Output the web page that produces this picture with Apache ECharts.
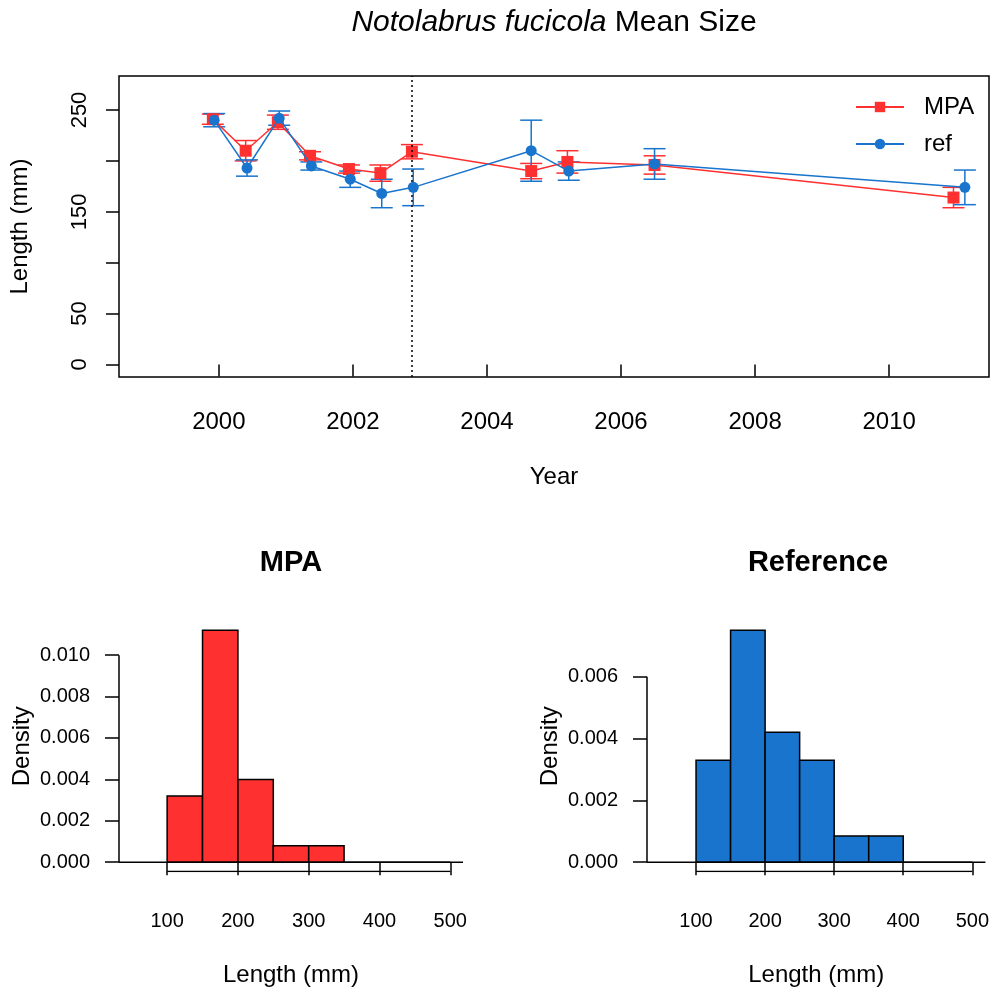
<!DOCTYPE html>
<html>
<head>
<meta charset="utf-8">
<script src="https://cdn.jsdelivr.net/npm/echarts@6/dist/echarts.min.js"></script>
<style>
  html, body { margin: 0; padding: 0; background: #fff; }
  #chart { width: 992px; height: 996px; }
</style>
</head>
<body>
<div id="chart"></div>
<script>
// mean size by survey date (decimal year), error = +/- half bar
var mpaYears = [1999.91, 2000.40, 2000.88, 2001.36, 2001.94, 2002.41, 2002.88, 2004.66, 2005.20, 2006.50, 2010.96];
var mpaMeans = [241, 210, 238, 205, 192, 188, 209, 190, 199, 196, 164];
var mpaErr   = [5, 10, 7, 4, 4, 8, 7, 7.5, 11, 9, 10];

var refYears = [1999.93, 2000.42, 2000.90, 2001.38, 2001.96, 2002.43, 2002.90, 2004.66, 2005.22, 2006.50, 2011.13];
var refMeans = [240, 193, 242, 195, 182, 168, 174, 210, 190, 197, 174];
var refErr   = [6.5, 8, 7, 4, 8, 14, 18, 30, 9, 15, 17];

var mpaStart = 2002.88;   // dotted line

var yearTicks = [2000, 2002, 2004, 2006, 2008, 2010];
var lenTicks = [0, 50, 100, 150, 200, 250];
var lenLabels = [0, 50, 150, 250];

// histograms (density per 50 mm bin)
var binEdges = [100, 150, 200, 250, 300, 350, 400, 450, 500];
var mpaDensity = [0.0032, 0.0112, 0.0040, 0.0008, 0.0008, 0, 0, 0];
var refDensity = [0.0033, 0.0075, 0.0042, 0.0033, 0.00085, 0.00085, 0, 0];
var histXTicks = [100, 200, 300, 400, 500];
var mpaYTicks = [0, 0.002, 0.004, 0.006, 0.008, 0.010];
var refYTicks = [0, 0.002, 0.004, 0.006];

var RED = '#FF3030', BLUE = '#1874CD';
var FONT = 'Liberation Sans';

function zip(a, b) { return a.map(function (v, i) { return [v, b[i]]; }); }
function errData(x, m, e) { return x.map(function (v, i) { return [v, m[i] - e[i], m[i] + e[i]]; }); }
function binData(d) { return d.map(function (v, i) { return [binEdges[i], binEdges[i + 1], v]; }); }

function errorBars(color) {
  return function (params, api) {
    var x = api.value(0);
    var lo = api.coord([x, api.value(1)]);
    var hi = api.coord([x, api.value(2)]);
    var w = 11;
    var st = { stroke: color, lineWidth: 1.5 };
    return { type: 'group', children: [
      { type: 'line', shape: { x1: lo[0], y1: lo[1], x2: hi[0], y2: hi[1] }, style: st },
      { type: 'line', shape: { x1: lo[0] - w, y1: lo[1], x2: lo[0] + w, y2: lo[1] }, style: st },
      { type: 'line', shape: { x1: hi[0] - w, y1: hi[1], x2: hi[0] + w, y2: hi[1] }, style: st }
    ] };
  };
}

function histBars(color) {
  return function (params, api) {
    var a = api.coord([api.value(0), api.value(2)]);
    var b = api.coord([api.value(1), 0]);
    return { type: 'rect',
      shape: { x: a[0], y: a[1], width: b[0] - a[0], height: b[1] - a[1] },
      style: { fill: color, stroke: '#000', lineWidth: 1.5 } };
  };
}

// axis-style lines for the R look, drawn in data space
function rule(xi, yi, pts) {
  return { type: 'line', xAxisIndex: xi, yAxisIndex: yi, data: pts, symbol: 'none', silent: true,
    lineStyle: { color: '#000', width: 1.5 }, z: 5, animation: false };
}

var mpaX = { min: 32, max: 518 };
var refX = { min: 29, max: 519 };
var mpaY = { min: -0.000448, max: 0.011648 };
var refY = { min: -0.0003, max: 0.0078 };

function histXAxis(idx, r) {
  return { type: 'value', gridIndex: idx, min: r.min, max: r.max,
    axisLine: { show: false }, splitLine: { show: false },
    axisTick: { show: true, length: 13, customValues: histXTicks, lineStyle: { color: '#000', width: 1.5 } },
    axisLabel: { customValues: histXTicks, fontSize: 20, color: '#000', fontFamily: FONT, margin: 40 },
    name: 'Length (mm)', nameLocation: 'middle', nameGap: 92,
    nameTextStyle: { fontSize: 24, color: '#000', fontFamily: FONT } };
}
function histYAxis(idx, r, ticks) {
  return { type: 'value', gridIndex: idx, min: r.min, max: r.max,
    axisLine: { show: false }, splitLine: { show: false },
    axisTick: { show: true, length: 14, customValues: ticks, lineStyle: { color: '#000', width: 1.5 } },
    axisLabel: { customValues: ticks, fontSize: 20, color: '#000', fontFamily: FONT, margin: 29,
      formatter: function (v) { return v.toFixed(3); } },
    name: 'Density', nameLocation: 'middle', nameGap: 85, nameRotate: 90,
    nameTextStyle: { fontSize: 24, color: '#000', fontFamily: FONT } };
}

var option = {
  backgroundColor: '#fff',
  animation: false,
  textStyle: { fontFamily: FONT },
  title: [
    { text: '{i|Notolabrus fucicola} Mean Size', left: 554, top: 8, textAlign: 'center', padding: 0,
      textStyle: { fontSize: 30, fontWeight: 'normal', color: '#000', fontFamily: FONT,
        rich: { i: { fontStyle: 'italic', fontSize: 30, color: '#000', fontFamily: FONT } } } },
    { text: 'MPA', left: 291, top: 548, textAlign: 'center', padding: 0,
      textStyle: { fontSize: 29, fontWeight: 'bold', color: '#000', fontFamily: FONT } },
    { text: 'Reference', left: 818, top: 548, textAlign: 'center', padding: 0,
      textStyle: { fontSize: 29, fontWeight: 'bold', color: '#000', fontFamily: FONT } }
  ],
  legend: {
    data: ['MPA', 'ref'], orient: 'vertical', left: 855, top: 95,
    itemWidth: 48, itemHeight: 13, itemGap: 13, padding: 0,
    textStyle: { fontSize: 24, color: '#000', fontFamily: FONT, padding: [0, 0, 0, 15] }
  },
  grid: [
    { left: 119, right: 3, top: 76, bottom: 619, show: true, borderColor: '#000', borderWidth: 1.5 },
    { left: 119, right: 529, top: 621, bottom: 124.5 },
    { left: 647, right: 2, top: 621, bottom: 124.5 }
  ],
  xAxis: [
    { type: 'value', gridIndex: 0, min: 1998.51, max: 2011.49,
      axisLine: { show: false }, splitLine: { show: false },
      axisTick: { show: true, length: 12, customValues: yearTicks, lineStyle: { color: '#000', width: 1.5 } },
      axisLabel: { customValues: yearTicks, fontSize: 24, color: '#000', fontFamily: FONT, margin: 33,
        formatter: function (v) { return String(v); } },
      name: 'Year', nameLocation: 'middle', nameGap: 88,
      nameTextStyle: { fontSize: 24, color: '#000', fontFamily: FONT } },
    histXAxis(1, mpaX),
    histXAxis(2, refX)
  ],
  yAxis: [
    { type: 'value', gridIndex: 0, min: -12.3, max: 283.4,
      axisLine: { show: false }, splitLine: { show: false },
      axisTick: { show: true, length: 13, customValues: lenTicks, lineStyle: { color: '#000', width: 1.5 } },
      axisLabel: { customValues: lenLabels, fontSize: 22, color: '#000', fontFamily: FONT, margin: 28, rotate: 90 },
      name: 'Length (mm)', nameLocation: 'middle', nameGap: 87, nameRotate: 90,
      nameTextStyle: { fontSize: 24, color: '#000', fontFamily: FONT } },
    histYAxis(1, mpaY, mpaYTicks),
    histYAxis(2, refY, refYTicks)
  ],
  series: [
    { name: 'MPA err', type: 'custom', xAxisIndex: 0, yAxisIndex: 0, renderItem: errorBars(RED),
      data: errData(mpaYears, mpaMeans, mpaErr), z: 2, silent: true },
    { name: 'ref err', type: 'custom', xAxisIndex: 0, yAxisIndex: 0, renderItem: errorBars(BLUE),
      data: errData(refYears, refMeans, refErr), z: 3, silent: true },
    { name: 'MPA', type: 'line', xAxisIndex: 0, yAxisIndex: 0, data: zip(mpaYears, mpaMeans),
      symbol: 'rect', symbolSize: 12, color: RED, lineStyle: { color: RED, width: 1.5 },
      itemStyle: { color: RED }, z: 4,
      markLine: { silent: true, symbol: 'none', label: { show: false },
        lineStyle: { color: '#000', type: [2, 3], width: 1.5 },
        data: [{ xAxis: mpaStart }] } },
    { name: 'ref', type: 'line', xAxisIndex: 0, yAxisIndex: 0, data: zip(refYears, refMeans),
      symbol: 'circle', symbolSize: 11, color: BLUE, lineStyle: { color: BLUE, width: 1.5 },
      itemStyle: { color: BLUE }, z: 5 },

    { name: 'MPA hist', type: 'custom', xAxisIndex: 1, yAxisIndex: 1, renderItem: histBars(RED),
      data: binData(mpaDensity), silent: true, z: 3 },
    rule(1, 1, [[mpaX.min, 0], [mpaX.max, 0]]),
    rule(1, 1, [[mpaX.min, mpaYTicks[0]], [mpaX.min, mpaYTicks[mpaYTicks.length - 1]]]),
    rule(1, 1, [[histXTicks[0], mpaY.min], [histXTicks[histXTicks.length - 1], mpaY.min]]),

    { name: 'ref hist', type: 'custom', xAxisIndex: 2, yAxisIndex: 2, renderItem: histBars(BLUE),
      data: binData(refDensity), silent: true, z: 3 },
    rule(2, 2, [[refX.min, 0], [refX.max, 0]]),
    rule(2, 2, [[refX.min, refYTicks[0]], [refX.min, refYTicks[refYTicks.length - 1]]]),
    rule(2, 2, [[histXTicks[0], refY.min], [histXTicks[histXTicks.length - 1], refY.min]])
  ]
};

var chart = echarts.init(document.getElementById('chart'), null, { renderer: 'canvas' });
chart.setOption(option);
</script>
</body>
</html>
